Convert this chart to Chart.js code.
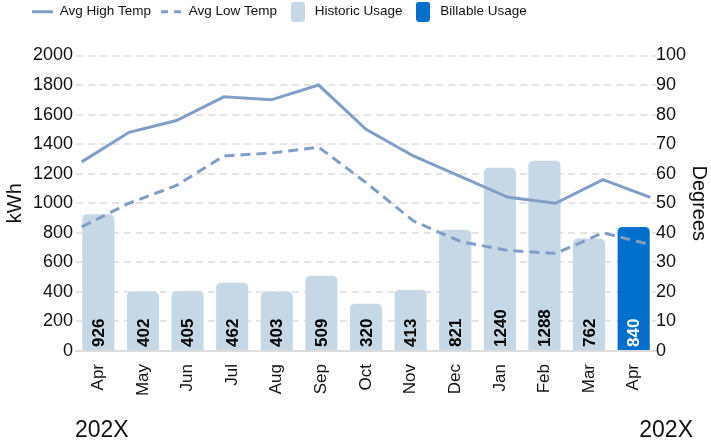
<!DOCTYPE html>
<html>
<head>
<meta charset="utf-8">
<script src="https://cdn.jsdelivr.net/npm/chart.js@4/dist/chart.umd.min.js"></script>
<style>
  html, body { margin: 0; padding: 0; background: #ffffff; }
  #wrap { width: 711px; height: 446px; position: relative; }
</style>
</head>
<body>
<div id="wrap"><canvas id="c"></canvas></div>
<script>
// ---- data ----
const months = ['Apr', 'May', 'Jun', 'Jul', 'Aug', 'Sep', 'Oct', 'Nov', 'Dec', 'Jan', 'Feb', 'Mar', 'Apr'];
const historicUsage = [926, 402, 405, 462, 403, 509, 320, 413, 821, 1240, 1288, 762, null];
const billableUsage = [null, null, null, null, null, null, null, null, null, null, null, null, 840];
const avgHighTemp = [64, 74, 78, 86, 85, 90, 75, 66, 59, 52, 50, 58, 52];
const avgLowTemp = [42, 50, 56, 66, 67, 69, 57, 44, 37, 34, 33, 40, 36];
const kwhTicks = { min: 0, max: 2000, step: 200 };
const degTicks = { min: 0, max: 100, step: 10 };
const yearLabelStart = '202X';
const yearLabelEnd = '202X';

// ---- styles ----
const FONT = "'Liberation Sans', Arial, Helvetica, sans-serif";
const lineColor = '#819ec6';
const histColor = '#c6d7e5';
const billColor = '#0070cc';
const textColor = '#111111';
const gridDash = [7, 5];

function legendBox(color) {
  const c = document.createElement('canvas');
  c.width = 14; c.height = 20;
  const g = c.getContext('2d');
  g.fillStyle = color;
  g.beginPath();
  if (g.roundRect) { g.roundRect(0, 0, 14, 20, 3); } else { g.rect(0, 0, 14, 20); }
  g.fill();
  return c;
}

const barLabels = {
  id: 'barLabels',
  afterDatasetsDraw(chart) {
    const ctx = chart.ctx;
    chart.data.datasets.forEach((ds, di) => {
      if (ds.type !== 'bar') return;
      const meta = chart.getDatasetMeta(di);
      meta.data.forEach((el, i) => {
        const v = ds.data[i];
        if (v === null || v === undefined) return;
        ctx.save();
        ctx.translate(el.x, el.base - 3);
        ctx.rotate(-Math.PI / 2);
        ctx.font = 'bold 17px ' + FONT;
        ctx.fillStyle = ds.labelColor;
        ctx.textAlign = 'left';
        ctx.textBaseline = 'middle';
        ctx.fillText(String(v), 0, 1);
        ctx.restore();
      });
    });
  }
};

const yearLabels = {
  id: 'yearLabels',
  afterDraw(chart) {
    const ctx = chart.ctx;
    const a = chart.chartArea;
    ctx.save();
    ctx.font = '23px ' + FONT;
    ctx.fillStyle = textColor;
    ctx.textBaseline = 'alphabetic';
    ctx.textAlign = 'left';
    ctx.fillText(yearLabelStart, a.left - 1, 437);
    ctx.textAlign = 'right';
    ctx.fillText(yearLabelEnd, a.right + 37, 437);
    ctx.restore();
  }
};

const legendShift = {
  id: 'legendShift',
  afterLayout(chart) {
    const lg = chart.legend;
    if (!lg) return;
    const dx = 22, dy = -(lg.top + 5);
    lg.left += dx; lg.right += dx;
    lg.top += dy; lg.bottom += dy;
  }
};

new Chart(document.getElementById('c'), {
  data: {
    labels: months,
    datasets: [
      {
        type: 'line', label: 'Avg High Temp',
        data: avgHighTemp.map((v, i) => ({ x: i, y: v })),
        xAxisID: 'xLine', yAxisID: 'y1',
        borderColor: lineColor, backgroundColor: lineColor,
        borderWidth: 3, pointRadius: 0, pointHoverRadius: 0, tension: 0,
        pointStyle: 'line', order: 0
      },
      {
        type: 'line', label: 'Avg Low Temp',
        data: avgLowTemp.map((v, i) => ({ x: i, y: v })),
        xAxisID: 'xLine', yAxisID: 'y1',
        borderColor: lineColor, backgroundColor: lineColor,
        borderWidth: 3, borderDash: [10, 6], pointRadius: 0, pointHoverRadius: 0, tension: 0,
        pointStyle: 'line', order: 0
      },
      {
        type: 'bar', label: 'Historic Usage',
        data: historicUsage, xAxisID: 'x', yAxisID: 'y',
        backgroundColor: histColor, borderRadius: 5, borderSkipped: 'start',
        grouped: false, stack: 'usage',
        pointStyle: legendBox(histColor), labelColor: '#000000', order: 1
      },
      {
        type: 'bar', label: 'Billable Usage',
        data: billableUsage, xAxisID: 'x', yAxisID: 'y',
        backgroundColor: billColor, borderRadius: 5, borderSkipped: 'start',
        grouped: false, stack: 'usage',
        pointStyle: legendBox(billColor), labelColor: '#ffffff', order: 1
      }
    ]
  },
  options: {
    responsive: true,
    maintainAspectRatio: false,
    animation: false,
    layout: { padding: { top: 22, left: 0, right: 0, bottom: 0 } },
    plugins: {
      tooltip: { enabled: false },
      legend: {
        position: 'top', align: 'start',
        labels: {
          usePointStyle: true, pointStyleWidth: 21, padding: 10,
          color: textColor, font: { family: FONT, size: 13.5 },
          generateLabels(chart) {
            const items = Chart.defaults.plugins.legend.labels.generateLabels(chart);
            items.forEach(it => {
              const ds = chart.data.datasets[it.datasetIndex];
              if (ds.type === 'line') {
                it.lineDash = ds.borderDash ? [7, 6] : [];
                it.lineWidth = ds.borderWidth;
                it.strokeStyle = ds.borderColor;
              }
            });
            return items;
          }
        }
      }
    },
    scales: {
      x: {
        type: 'category', offset: true,
        grid: { display: false, drawTicks: false },
        border: { display: true, color: '#dcdcdc', width: 2 },
        ticks: { color: textColor, font: { family: FONT, size: 17 }, maxRotation: 90, minRotation: 90, padding: 13, autoSkip: false },
        afterFit(s) { s.height = 95; }
      },
      xLine: {
        type: 'linear', display: false, min: -0.12, max: 12.12
      },
      y: {
        position: 'left', min: kwhTicks.min, max: kwhTicks.max,
        grid: { color: '#e4e4e4', lineWidth: 2, drawTicks: false, borderDash: gridDash, dash: gridDash },
        border: { display: false, dash: gridDash },
        ticks: { stepSize: kwhTicks.step, color: textColor, font: { family: FONT, size: 18 }, padding: 3,
                 callback: (v) => String(v) },
        title: { display: true, text: 'kWh', color: textColor, font: { family: FONT, size: 20 }, padding: { top: 3, bottom: 3 } },
        afterFit(s) { s.width = 76; }
      },
      y1: {
        position: 'right', min: degTicks.min, max: degTicks.max,
        grid: { display: false, drawTicks: false },
        border: { display: false },
        ticks: { stepSize: degTicks.step, color: textColor, font: { family: FONT, size: 18 }, padding: 0,
                 callback: (v) => String(v) },
        title: { display: true, text: 'Degrees', color: textColor, font: { family: FONT, size: 20 }, padding: { top: 0, bottom: 0 } },
        afterFit(s) { s.width = 55; }
      }
    }
  },
  plugins: [barLabels, yearLabels, legendShift]
});
</script>
</body>
</html>
